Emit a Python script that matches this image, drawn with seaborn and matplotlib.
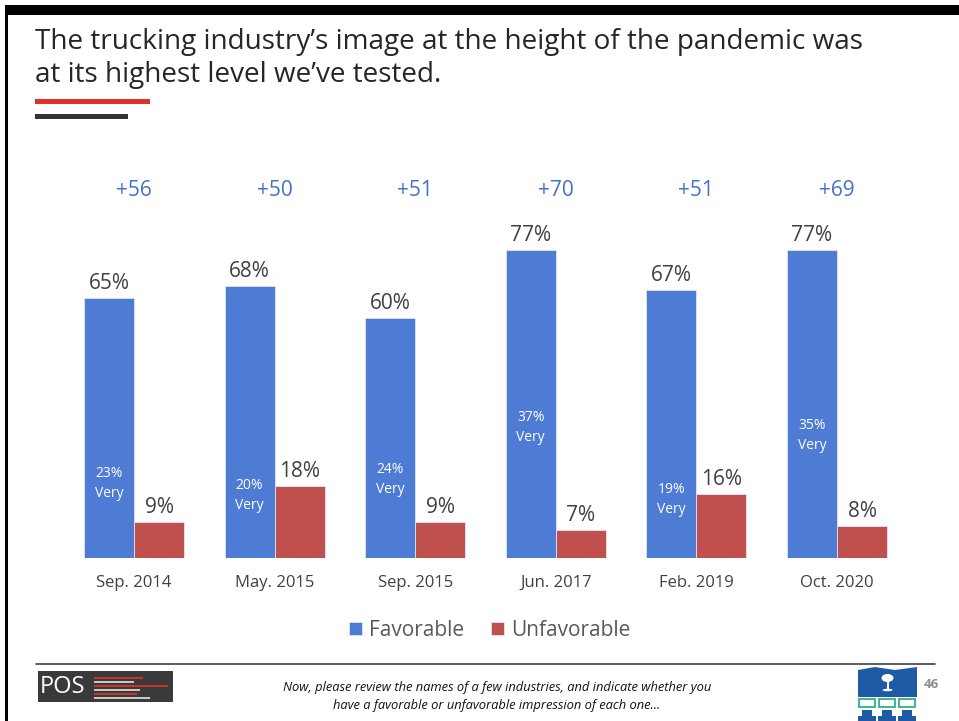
import matplotlib
matplotlib.use("Agg")
import matplotlib.pyplot as plt
from matplotlib.patches import Rectangle, Ellipse, Polygon
import seaborn as sns
import pandas as pd

# Survey waves and results
periods = ["Sep. 2014", "May. 2015", "Sep. 2015", "Jun. 2017", "Feb. 2019", "Oct. 2020"]
favorable = [65, 68, 60, 77, 67, 77]
unfavorable = [9, 18, 9, 7, 16, 8]
very_favorable = [23, 20, 24, 37, 19, 35]
net = [56, 50, 51, 70, 51, 69]
series = ["Favorable", "Unfavorable"]

BLUE = "#4E7BD4"
RED = "#C0504D"
TEXT = "#404040"

sns.set_theme(style="white")
plt.rcParams["font.family"] = ["Open Sans", "DejaVu Sans"]

df = pd.DataFrame({
    "period": periods * 2,
    "pct": favorable + unfavorable,
    "series": [series[0]] * len(periods) + [series[1]] * len(periods),
})

W, H = 959, 721
fig = plt.figure(figsize=(W / 100, H / 100), dpi=100)

# Slide canvas in pixel coordinates
bg = fig.add_axes([0, 0, 1, 1])
bg.set_xlim(0, W)
bg.set_ylim(H, 0)
bg.axis("off")

# Frame: top band and left border
bg.add_patch(Rectangle((5, 5), W - 5, 10, color="black", lw=0))
bg.add_patch(Rectangle((5, 5), 2.5, H - 5, color="black", lw=0))

# Title and accent rules
bg.text(35, 42, "The trucking industry\u2019s image at the height of the pandemic was",
        fontsize=20.1, color="#262626", va="center", ha="left")
bg.text(35, 75, "at its highest level we\u2019ve tested.",
        fontsize=20.1, color="#262626", va="center", ha="left")
bg.add_patch(Rectangle((35, 99), 115, 5, color="#E0302A", lw=0))
bg.add_patch(Rectangle((35, 114), 93, 4.5, color="#333333", lw=0))

# Footer rule
bg.plot([36, 935], [664, 664], color="#404040", lw=1.2)

# POS logo
bg.add_patch(Rectangle((38, 671), 135, 31, color="#3A3A3A", lw=0))
bg.text(40, 687, "POS", color="white", fontsize=17, va="center", ha="left")
for yy, x1, c in [(678, 143, "#D0342C"), (682, 134, "#CCCCCC"), (686, 168, "#D0342C"),
                  (690, 140, "#CCCCCC"), (694, 137, "#D0342C"), (698, 150, "#CCCCCC")]:
    bg.plot([94, x1], [yy, yy], color=c, lw=1.4, solid_capstyle="butt")

# Footnote
bg.text(497, 688, "Now, please review the names of a few industries, and indicate whether you",
        fontsize=9.3, style="italic", color="#111111", ha="center", va="center")
bg.text(497, 706, "have a favorable or unfavorable impression of each one\u2026",
        fontsize=9.3, style="italic", color="#111111", ha="center", va="center")

# Right-hand emblem
bg.add_patch(Polygon([(858, 670), (875, 667), (895, 670), (917, 667), (917, 697), (858, 697)],
                     closed=True, color="#1F5AA6", lw=0))
bg.add_patch(Rectangle((886.5, 678), 2.2, 12, color="white", lw=0))
bg.add_patch(Ellipse((887.5, 678), 12, 8, color="white", lw=0))
bg.add_patch(Ellipse((887.5, 690), 10, 2.5, color="white", lw=0))
for x0 in (858, 878, 898):
    bg.add_patch(Rectangle((x0 + 1, 699), 16, 8, fill=False, ec="#3DB58C", lw=1.4))
    bg.add_patch(Rectangle((x0 + 4, 710), 10, 6, color="#1F5AA6", lw=0))
    bg.add_patch(Rectangle((x0, 716), 18, 5, color="#1F5AA6", lw=0))
bg.text(931, 684, "46", fontsize=9.5, fontweight="bold", color="#8C8C8C", ha="center", va="center")

# Chart area: y = 0 at pixel 558, 4 px per percentage point
x_left = (134 - 70.3) / W
x_width = (140.6 * 6) / W
ax = fig.add_axes([x_left, (H - 558) / H, x_width, 400 / H])
ax.patch.set_alpha(0)

sns.barplot(data=df, x="period", y="pct", hue="series", order=periods,
            hue_order=series, palette=[BLUE, RED], saturation=1, width=0.712,
            edgecolor="#DCE6F7", linewidth=0.6, ax=ax, legend=True)

ax.set_xlim(-0.5, len(periods) - 0.5)
ax.set_ylim(0, 100)
ax.set_xlabel("")
ax.set_ylabel("")
ax.set_yticks([])
for s in ax.spines.values():
    s.set_visible(False)
ax.tick_params(axis="x", length=0, pad=12, labelsize=12, labelcolor=TEXT)

half = 0.712 / 4
for i in range(len(periods)):
    xb = i - half
    xr = i + half
    ax.annotate(f"{favorable[i]}%", (xb, favorable[i]), xytext=(0, 3),
                textcoords="offset points", ha="center", va="bottom",
                fontsize=15, color=TEXT)
    ax.annotate(f"{unfavorable[i]}%", (xr, unfavorable[i]), xytext=(0, 3),
                textcoords="offset points", ha="center", va="bottom",
                fontsize=15, color=TEXT)
    ax.text(xb, very_favorable[i], f"{very_favorable[i]}%\nVery", ha="center",
            va="top", fontsize=10, color="white", linespacing=1.45)
    ax.text(i, 92, f"+{net[i]}", ha="center", va="center",
            fontsize=15, color="#4472C4")

handles, labels = ax.get_legend_handles_labels()
ax.get_legend().remove()
leg = fig.legend(handles, labels, loc="center", bbox_to_anchor=(490 / W, 1 - 630 / H),
                 ncol=2, frameon=False, fontsize=15, handlelength=0.6, handleheight=0.6,
                 handletextpad=0.35, columnspacing=1.3)
for t in leg.get_texts():
    t.set_color("#595959")

fig.savefig("out.png", dpi=100)
